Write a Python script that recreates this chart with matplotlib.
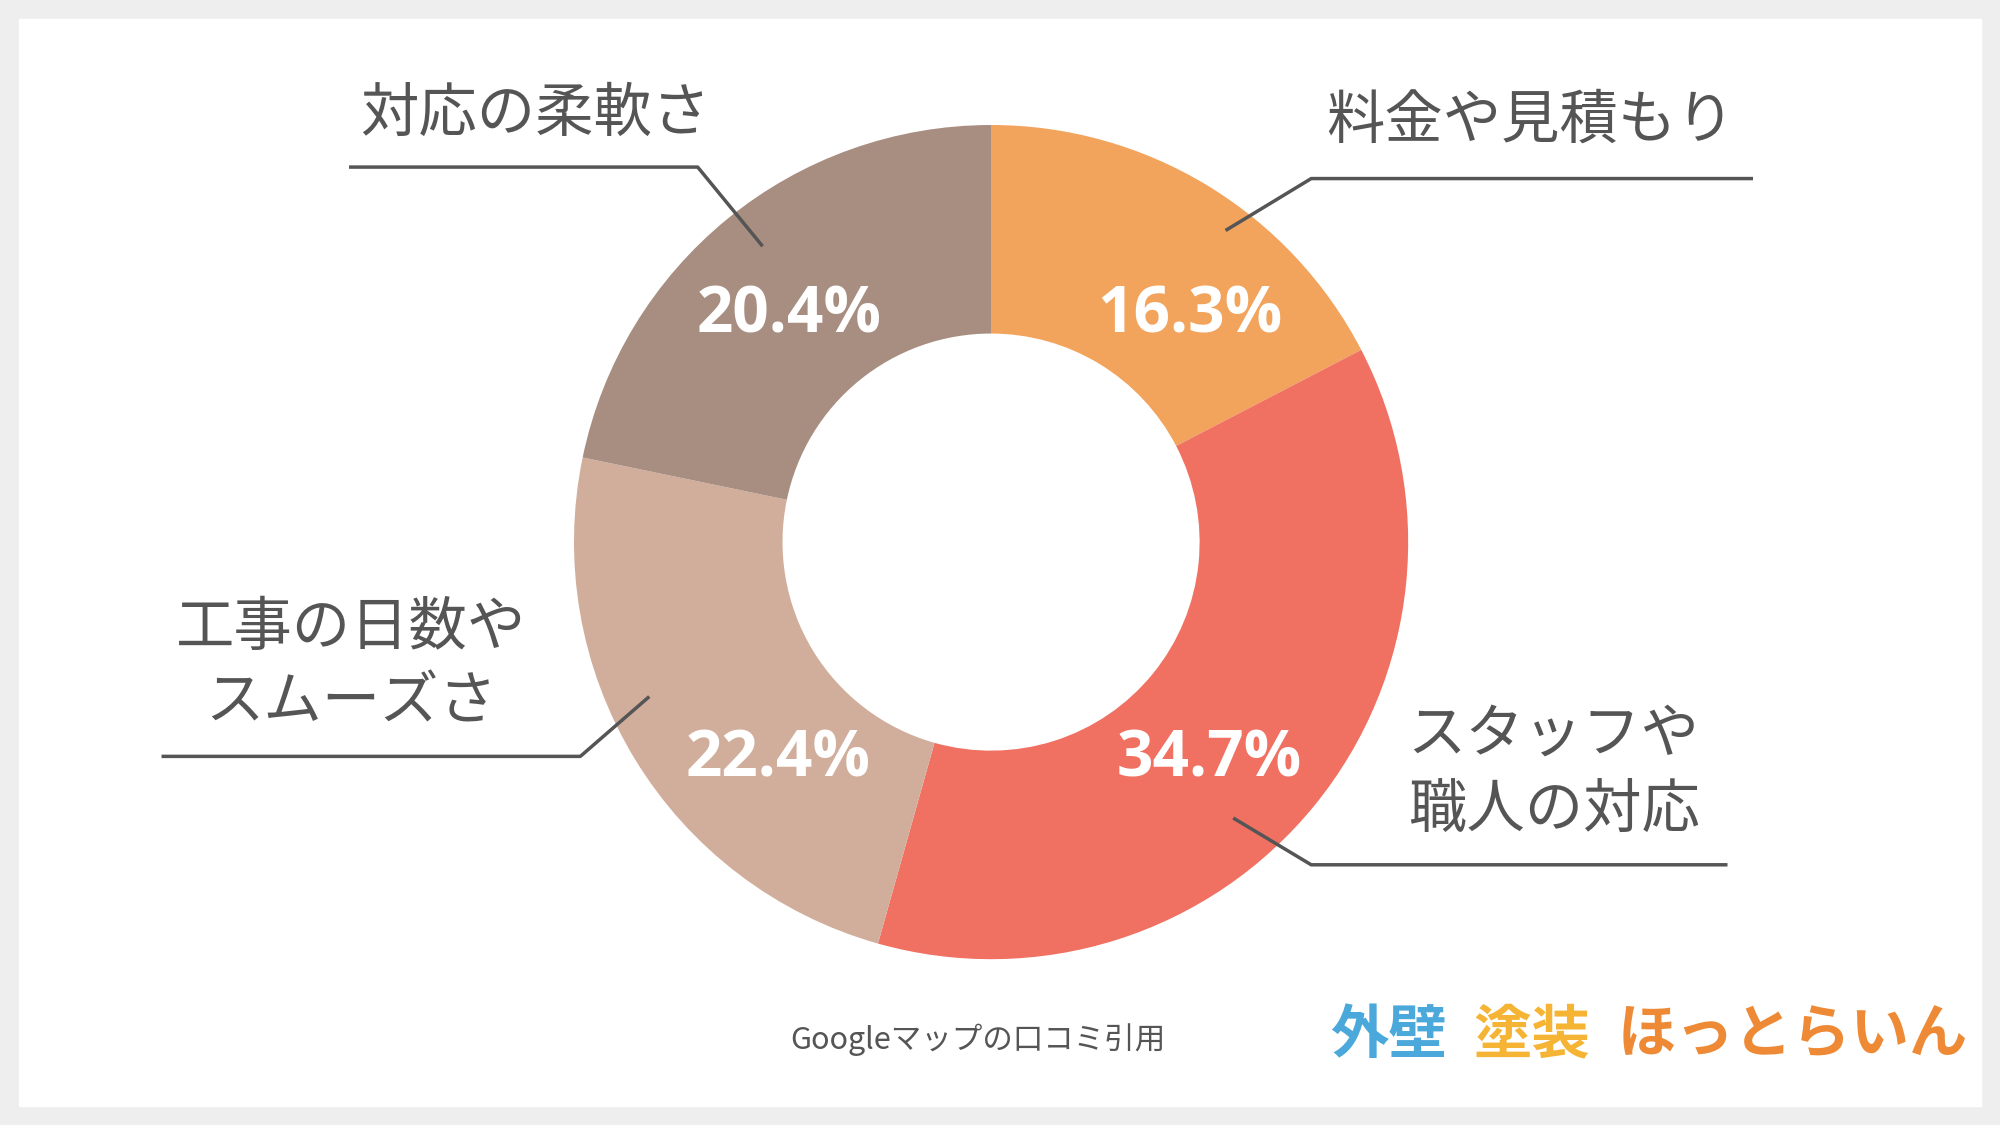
import matplotlib.pyplot as plt
from matplotlib.patches import Rectangle

plt.rcParams["font.family"] = "Noto Sans CJK JP"

categories = ["料金や見積もり", "スタッフや\n職人の対応", "工事の日数や\nスムーズさ", "対応の柔軟さ"]
values = [16.3, 34.7, 22.4, 20.4]
colors = ["#F2A35C", "#F07062", "#D1AE9C", "#A88E81"]

W, H = 1568, 882
def Y(y):
    return H - y

fig = plt.figure(figsize=(20, 11.25), dpi=100, facecolor="#EEEEEE")
ax = fig.add_axes([0, 0, 1, 1])
ax.add_patch(Rectangle((15, Y(867)), 1538, 852, color="white", zorder=0))

# donut (normalised over the four shares)
cx, cy, r = 777, Y(425), 327
wedges, _ = ax.pie(values, colors=colors, startangle=90, counterclock=False,
                   center=(cx, cy), radius=r, frame=True,
                   wedgeprops=dict(width=r * 0.5, linewidth=0))
ax.set_xlim(0, W)
ax.set_ylim(0, H)
ax.set_aspect("auto")
ax.axis("off")

pct_pos = [(933, 248), (948, 596), (610, 596), (619, 248)]
for v, (x, y) in zip(values, pct_pos):
    ax.text(x, Y(y), f"{v}%", color="white", fontsize=46, fontweight="bold",
            ha="center", va="center", family="Open Sans")

lines = [
    [(962, 180), (1028, 140), (1373, 140)],
    [(968, 642), (1028, 678), (1353, 678)],
    [(508, 547), (455, 593), (128, 593)],
    [(597, 192), (547, 131), (275, 131)],
]
for pts in lines:
    ax.plot([p[0] for p in pts], [Y(p[1]) for p in pts], color="#555555", lw=2.5)

label_pos = [(1200, 95), (1218, 606), (275, 522), (420, 90)]
for lab, (x, y) in zip(categories, label_pos):
    ax.text(x, Y(y), lab, color="#555555", fontsize=42, ha="center", va="center",
            linespacing=1.3)

ax.text(767, Y(815), "Googleマップの口コミ引用", color="#555555", fontsize=22,
        ha="center", va="center")

# logo
logo = [("外壁", "#4AA8DA", 1043), ("塗装", "#F5B434", 1155), ("ほっとらいん", "#EE8A35", 1268)]
for txt, c, x in logo:
    ax.text(x, Y(812), txt, color=c, fontsize=42, fontweight="bold",
            ha="left", va="center")

fig.savefig("out.png", dpi=100, facecolor=fig.get_facecolor())
